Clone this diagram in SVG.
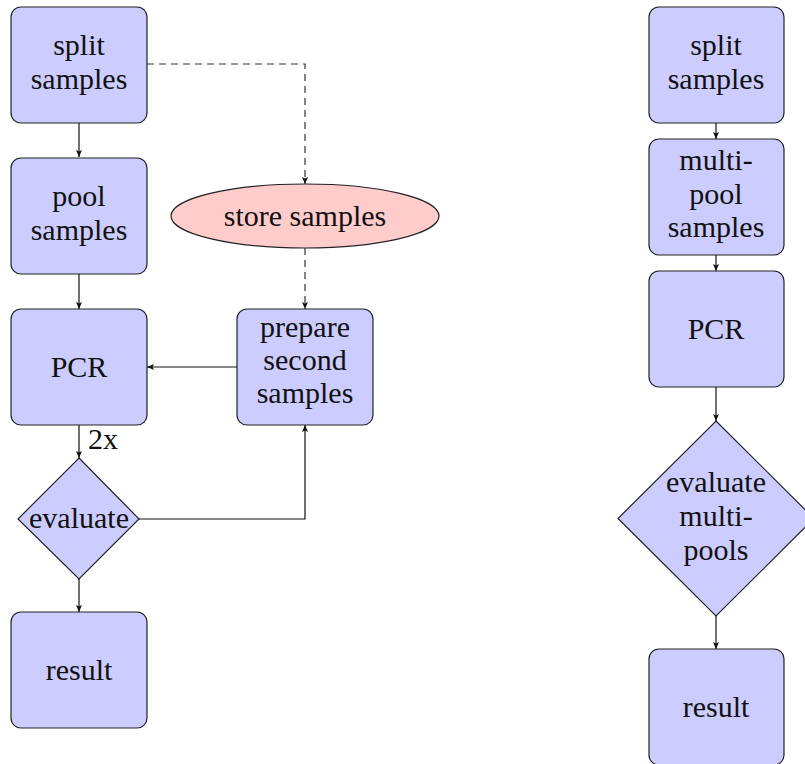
<svg xmlns="http://www.w3.org/2000/svg" width="805" height="764" viewBox="0 0 805 764">
<style>
.box{fill:#ccccff;stroke:#222;stroke-width:1.2}
.ell{fill:#ffcccc;stroke:#222;stroke-width:1.2}
.t{font-family:'Liberation Serif','Tinos','Times New Roman','DejaVu Serif',serif;font-size:30px;fill:#111;text-anchor:middle}
.c{fill:none;stroke:#111;stroke-width:1.2}
.d{fill:none;stroke:#333;stroke-width:1.2;stroke-dasharray:7,5}
</style>
<defs>
<marker id="ah" markerUnits="userSpaceOnUse" markerWidth="8" markerHeight="8" viewBox="0 0 8 8" refX="7" refY="4" orient="auto">
<path d="M0,1 L7,4 L0,7 L1.5,4 Z" fill="#111"/>
</marker>
</defs>
<rect width="805" height="764" fill="#fff"/>
<g id="connectors">
<line class="c" x1="79" y1="123" x2="79" y2="157" marker-end="url(#ah)"/>
<line class="c" x1="79" y1="274" x2="79" y2="309" marker-end="url(#ah)"/>
<line class="c" x1="79" y1="425" x2="79" y2="458" marker-end="url(#ah)"/>
<text class="t" x="103" y="449" font-family="Liberation Serif, serif">2x</text>
<line class="c" x1="79" y1="579" x2="79" y2="612" marker-end="url(#ah)"/>
<line class="c" x1="237" y1="367" x2="147" y2="367" marker-end="url(#ah)"/>
<polyline class="c" points="139,519 305,519 305,425" marker-end="url(#ah)"/>
<polyline class="d" points="147,64 305,64 305,184" marker-end="url(#ah)"/>
<line class="d" x1="305" y1="248" x2="305" y2="309" marker-end="url(#ah)"/>
<line class="c" x1="716" y1="123" x2="716" y2="139" marker-end="url(#ah)"/>
<line class="c" x1="716" y1="255" x2="716" y2="271" marker-end="url(#ah)"/>
<line class="c" x1="716" y1="387" x2="716" y2="421" marker-end="url(#ah)"/>
<line class="c" x1="716" y1="616" x2="716" y2="649" marker-end="url(#ah)"/>
</g>
<g id="split1">
<rect class="box" x="11" y="7" width="136" height="116" rx="10"/>
<text class="t" x="79" y="55">split</text>
<text class="t" x="79" y="89">samples</text>
</g>
<g id="pool1">
<rect class="box" x="11" y="158" width="136" height="116" rx="10"/>
<text class="t" x="79" y="206">pool</text>
<text class="t" x="79" y="240">samples</text>
</g>
<g id="pcr1">
<rect class="box" x="11" y="309" width="136" height="116" rx="10"/>
<text class="t" x="79" y="377">PCR</text>
</g>
<g id="evaluate1">
<polygon class="box" points="79,458 139,519 79,579 18,519"/>
<text class="t" x="79" y="528">evaluate</text>
</g>
<g id="result1">
<rect class="box" x="11" y="612" width="136" height="116" rx="10"/>
<text class="t" x="79" y="680">result</text>
</g>
<g id="store">
<ellipse class="ell" cx="305" cy="216" rx="134" ry="32"/>
<text class="t" x="305" y="226">store samples</text>
</g>
<g id="prepare">
<rect class="box" x="237" y="309" width="136" height="116" rx="10"/>
<text class="t" x="305" y="337">prepare</text>
<text class="t" x="305" y="370">second</text>
<text class="t" x="305" y="403">samples</text>
</g>
<g id="split2">
<rect class="box" x="649" y="7" width="135" height="116" rx="10"/>
<text class="t" x="716" y="55">split</text>
<text class="t" x="716" y="89">samples</text>
</g>
<g id="multipool">
<rect class="box" x="649" y="139" width="135" height="116" rx="10"/>
<text class="t" x="716" y="170">multi-</text>
<text class="t" x="716" y="204">pool</text>
<text class="t" x="716" y="237">samples</text>
</g>
<g id="pcr2">
<rect class="box" x="649" y="271" width="135" height="116" rx="10"/>
<text class="t" x="716" y="339">PCR</text>
</g>
<g id="evaluate2">
<polygon class="box" points="716,421 814,518.5 716,616 618,518.5"/>
<text class="t" x="716" y="492">evaluate</text>
<text class="t" x="716" y="526">multi-</text>
<text class="t" x="716" y="560">pools</text>
</g>
<g id="result2">
<rect class="box" x="649" y="649" width="135" height="116" rx="10"/>
<text class="t" x="716" y="717">result</text>
</g>
</svg>
